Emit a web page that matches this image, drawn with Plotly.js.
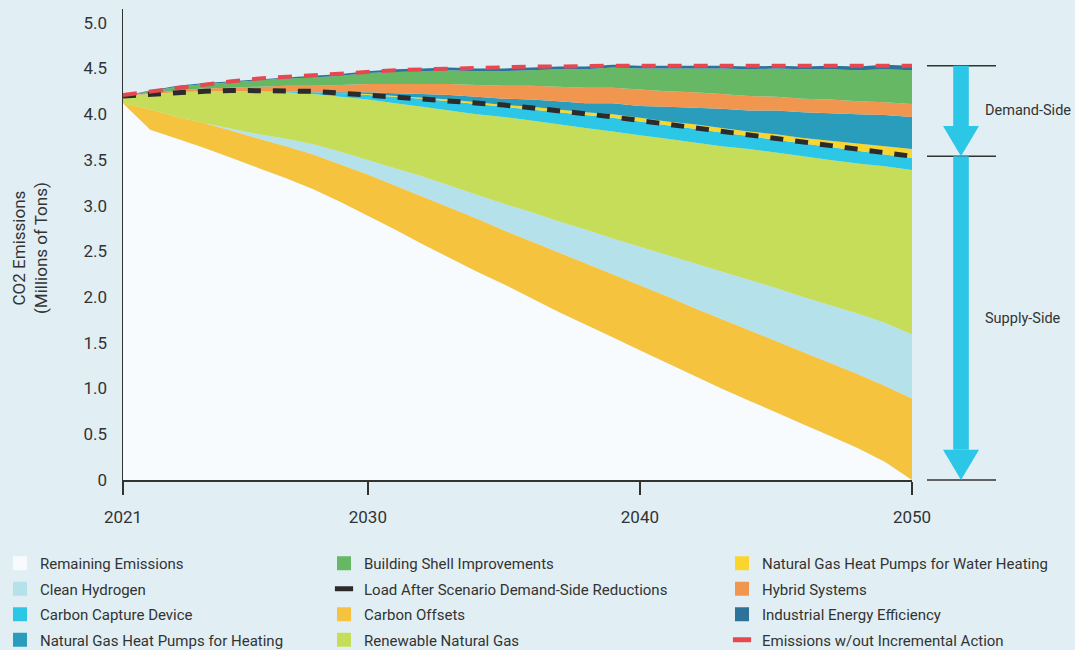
<!DOCTYPE html>
<html><head><meta charset="utf-8">
<script src="https://cdn.plot.ly/plotly-3.0.1.min.js"></script>
<style>html,body{margin:0;padding:0;background:#e1eff4;} #chart{width:1075px;height:650px;}</style>
</head><body><div id="chart"></div>
<script>
// ---- data (millions of tons CO2) ----
const years = [2021,2022,2023,2024,2025,2026,2027,2028,2029,2030,2031,2032,2033,2034,2035,2036,2037,2038,2039,2040,2041,2042,2043,2044,2045,2046,2047,2048,2049,2050];
const remainingEmissions = [4.12,3.83,3.73,3.63,3.52,3.41,3.30,3.18,3.04,2.89,2.74,2.58,2.43,2.28,2.14,1.99,1.84,1.70,1.56,1.42,1.28,1.14,1.00,0.87,0.74,0.61,0.48,0.35,0.20,0.00];
const carbonOffsets = [0.00,0.22,0.24,0.27,0.30,0.32,0.35,0.38,0.41,0.45,0.48,0.52,0.55,0.58,0.59,0.62,0.65,0.67,0.69,0.71,0.73,0.74,0.76,0.77,0.78,0.79,0.80,0.81,0.83,0.89];
const cleanHydrogen = [0,0,0,0,0.02,0.05,0.08,0.11,0.14,0.16,0.19,0.22,0.24,0.26,0.29,0.32,0.34,0.37,0.39,0.42,0.45,0.49,0.52,0.55,0.58,0.60,0.63,0.66,0.69,0.70];
const renewableNaturalGas = [0.08,0.17,0.27,0.35,0.41,0.47,0.51,0.55,0.60,0.66,0.71,0.76,0.82,0.88,0.95,1.00,1.06,1.11,1.17,1.22,1.27,1.32,1.37,1.43,1.48,1.54,1.59,1.64,1.71,1.80];
const carbonCapture = [0,0,0,0,0,0,0.01,0.02,0.04,0.05,0.07,0.09,0.10,0.11,0.11,0.12,0.13,0.14,0.15,0.15,0.15,0.15,0.15,0.14,0.14,0.14,0.14,0.14,0.13,0.13];
const hpWaterHeating = [0,0,0,0,0,0,0,0,0,0.01,0.01,0.01,0.02,0.02,0.02,0.03,0.03,0.03,0.04,0.04,0.04,0.05,0.05,0.05,0.06,0.06,0.07,0.08,0.09,0.10];
const hpHeating = [0,0,0,0,0,0,0,0,0.01,0.02,0.03,0.04,0.05,0.06,0.07,0.08,0.09,0.10,0.12,0.13,0.16,0.18,0.21,0.23,0.26,0.28,0.30,0.32,0.34,0.35];
const hybridSystems = [0,0.01,0.02,0.03,0.04,0.05,0.06,0.07,0.08,0.09,0.10,0.11,0.12,0.13,0.14,0.15,0.16,0.17,0.17,0.18,0.17,0.17,0.16,0.16,0.15,0.15,0.15,0.14,0.14,0.14];
const buildingShell = [0,0.02,0.04,0.05,0.06,0.07,0.08,0.09,0.10,0.12,0.13,0.14,0.15,0.15,0.16,0.17,0.19,0.20,0.22,0.23,0.25,0.26,0.28,0.29,0.31,0.32,0.33,0.34,0.36,0.37];
const industrialEfficiency = [0,0.01,0.01,0.01,0.01,0.01,0.01,0.02,0.02,0.02,0.03,0.03,0.03,0.03,0.03,0.03,0.03,0.03,0.03,0.03,0.03,0.03,0.03,0.03,0.03,0.03,0.04,0.04,0.05,0.05];
const loadAfterDemandSide = [4.20,4.22,4.24,4.25,4.26,4.26,4.26,4.25,4.23,4.21,4.19,4.17,4.14,4.12,4.10,4.07,4.04,4.01,3.97,3.93,3.89,3.85,3.81,3.77,3.73,3.69,3.66,3.62,3.58,3.54];
const emissionsNoAction = [4.21,4.25,4.29,4.33,4.36,4.39,4.41,4.43,4.45,4.47,4.48,4.49,4.50,4.51,4.51,4.52,4.52,4.53,4.53,4.53,4.53,4.53,4.53,4.53,4.53,4.53,4.53,4.53,4.53,4.53];
const xTicks = [2021,2030,2040,2050];
const yTicks = [0,0.5,1,1.5,2,2.5,3,3.5,4,4.5,5];
const yTickText = ['0','0.5','1.0','1.5','2.0','2.5','3.0','3.5','4.0','4.5','5.0'];

// ---- styles ----
const C = {
  remaining:'#f8fbfd', offsets:'#f6c33e', hydrogen:'#b4e1ea', rng:'#c5dd58', capture:'#2cc6e6',
  water:'#f9d52e', heating:'#2a9dbd', hybrid:'#f1964f', shell:'#66b865', industrial:'#2d7399',
  load:'#2b2b2b', noAction:'#e8474f'
};
const TXT = '#333333';
const FONT = 'Roboto, "Liberation Sans", sans-serif';
const yMax = 5.15;

const stack = [
  ['Remaining Emissions', remainingEmissions, C.remaining],
  ['Carbon Offsets', carbonOffsets, C.offsets],
  ['Clean Hydrogen', cleanHydrogen, C.hydrogen],
  ['Renewable Natural Gas', renewableNaturalGas, C.rng],
  ['Carbon Capture Device', carbonCapture, C.capture],
  ['Natural Gas Heat Pumps for Water Heating', hpWaterHeating, C.water],
  ['Natural Gas Heat Pumps for Heating', hpHeating, C.heating],
  ['Hybrid Systems', hybridSystems, C.hybrid],
  ['Building Shell Improvements', buildingShell, C.shell],
  ['Industrial Energy Efficiency', industrialEfficiency, C.industrial]
];
const traces = stack.map(([name, vals, col]) => ({
  type:'scatter', x: years, y: vals, name, stackgroup:'one', mode:'none',
  fillcolor: col, line:{width:0}, showlegend:false, hoverinfo:'skip'
}));
traces.push({type:'scatter', x: years, y: loadAfterDemandSide, mode:'lines', name:'Load After Scenario Demand-Side Reductions',
  line:{color:C.load, width:5, dash:'13px,12px'}, showlegend:false, hoverinfo:'skip'});
traces.push({type:'scatter', x: years, y: emissionsNoAction, mode:'lines', name:'Emissions w/out Incremental Action',
  line:{color:C.noAction, width:4, dash:'14px,12px'}, showlegend:false, hoverinfo:'skip'});

// legend entries (3 columns)
const legendCols = [
  ['legend', [['Remaining Emissions', C.remaining,'sq'],['Clean Hydrogen', C.hydrogen,'sq'],['Carbon Capture Device', C.capture,'sq'],['Natural Gas Heat Pumps for Heating', C.heating,'sq']]],
  ['legend2', [['Building Shell Improvements', C.shell,'sq'],['Load After Scenario Demand-Side Reductions', C.load,'ln'],['Carbon Offsets', C.offsets,'sq'],['Renewable Natural Gas', C.rng,'sq']]],
  ['legend3', [['Natural Gas Heat Pumps for Water Heating', C.water,'sq'],['Hybrid Systems', C.hybrid,'sq'],['Industrial Energy Efficiency', C.industrial,'sq'],['Emissions w/out Incremental Action', C.noAction,'ln']]]
];
legendCols.forEach(([lg, items]) => {
  items.forEach(([name, col, kind], i) => {
    traces.push({
      type:'scatter', x:[null], y:[null], mode:'markers', name, legend: lg, legendrank: i+1,
      legendgroup: lg + '_' + i, hoverinfo:'skip',
      marker: kind === 'sq' ? {symbol:'square', size:14, color:col, line:{width:0}}
                            : {symbol:'line-ew', size:13, color:col, line:{width:5, color:col}}
    });
  });
});

const legBase = {xref:'container', yref:'container', xanchor:'left', yanchor:'top', y: 1 - 547/650,
  bgcolor:'rgba(0,0,0,0)', borderwidth:0, traceorder:'grouped', tracegroupgap:3,
  font:{family:FONT, size:15, color:TXT}, itemclick:false, itemdoubleclick:false};

// right-side brackets & arrows
const px = v => (v - 123) / 789;   // pixel x -> paper x
const py = v => v / yMax;          // data y -> paper y
const topV = emissionsNoAction[emissionsNoAction.length-1];
const midV = loadAfterDemandSide[loadAfterDemandSide.length-1];
const headH = 0.33;
const ARROW = '#2cc6e6';
const shapes = [];
[topV, midV, 0].forEach(v => shapes.push({type:'line', xref:'paper', yref:'paper', x0:px(927), x1:px(996), y0:py(v), y1:py(v), line:{color:TXT, width:1.5}}));
[[topV, midV],[midV, 0]].forEach(([a,b]) => {
  shapes.push({type:'rect', xref:'paper', yref:'paper', x0:px(953.2), x1:px(968.8), y0:py(a), y1:py(b+headH), fillcolor:ARROW, line:{width:0}});
  shapes.push({type:'path', xref:'paper', yref:'paper', fillcolor:ARROW, line:{width:0},
    path:`M${px(943)},${py(b+headH)} L${px(979)},${py(b+headH)} L${px(961)},${py(b)} Z`});
});

const layout = {
  width:1075, height:650, paper_bgcolor:'#e1eff4', plot_bgcolor:'rgba(0,0,0,0)',
  margin:{l:123, r:163, t:9, b:170, autoexpand:false},
  showlegend:true,
  legend: Object.assign({}, legBase, {x: 0}),
  legend2: Object.assign({}, legBase, {x: 324/1075}),
  legend3: Object.assign({}, legBase, {x: 722/1075}),
  xaxis:{range:[2021,2050], tickvals:xTicks, ticks:'outside', ticklen:13, tickwidth:1.5, tickcolor:TXT,
    showline:true, linecolor:TXT, linewidth:1.5, showgrid:false, zeroline:false, ticklabelstandoff:8,
    tickfont:{family:FONT, size:17, color:TXT}, fixedrange:true, automargin:false},
  yaxis:{range:[0,yMax], tickvals:yTicks, ticktext:yTickText, ticks:'', showline:true, linecolor:TXT, linewidth:1.5,
    showgrid:false, zeroline:false, ticklabelstandoff:11, tickfont:{family:FONT, size:17, color:TXT}, fixedrange:true,
    automargin:false},
  shapes,
  annotations:[
    {xref:'paper', yref:'paper', x:px(30), y:(480-248)/471, xanchor:'center', yanchor:'middle', showarrow:false,
     textangle:-90, text:'CO2 Emissions<br>(Millions of Tons)', font:{family:FONT, size:17, color:TXT}},
    {xref:'paper', yref:'paper', x:px(983), y:py((topV+midV)/2), xanchor:'left', yanchor:'middle', showarrow:false,
     text:'Demand-Side', font:{family:FONT, size:14.5, color:TXT}},
    {xref:'paper', yref:'paper', x:px(983), y:py(midV/2), xanchor:'left', yanchor:'middle', showarrow:false,
     text:'Supply-Side', font:{family:FONT, size:14.5, color:TXT}}
  ],
  hovermode:false
};
Plotly.newPlot('chart', traces, layout, {staticPlot:true, displayModeBar:false});
</script></body></html>
